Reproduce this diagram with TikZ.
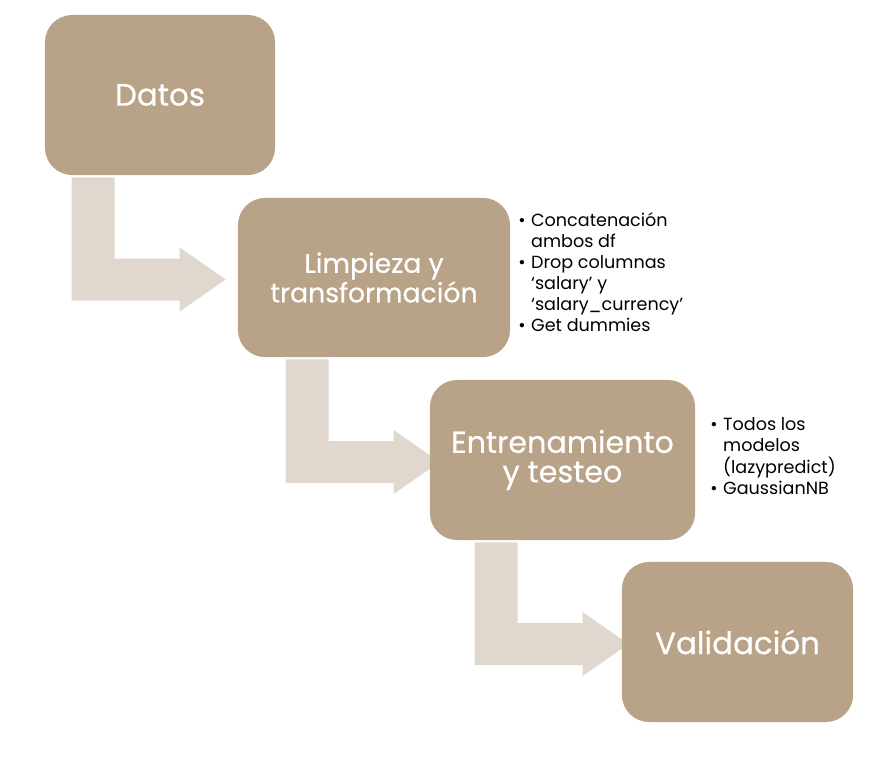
\documentclass[tikz,border=0pt]{standalone}
\usepackage{fontspec}
\setmainfont{Poppins}
\newfontfamily\cajafont[FakeBold=0.5]{Poppins}
\usetikzlibrary{calc,backgrounds}

\definecolor{cajafill}{RGB}{185,163,136}
\definecolor{flechafill}{RGB}{224,215,206}

% flecha en L: #1 caja de origen, #2 caja destino, #3 margen de la barra, #4 hueco antes de la caja
\newcommand{\flecha}[4]{%
  \path ($(#1.south west)+(#3,2)$) coordinate (p) ($(#2.west)+(-#4,2)$) coordinate (q);
  \fill[flechafill] (p) -- ++(43,0) |- ($(q)+(-46,-21)$) -- ++(0,-11) -- (q)
    -- ++(-46,32) -- ++(0,-11) -| (p) -- cycle;
}

\begin{document}
\begin{tikzpicture}[x=0.025cm, y=-0.025cm,
    caja/.style={fill=cajafill, rounded corners=0.68cm, minimum height=4cm,
      text=white, align=center, font=\cajafont\fontsize{22}{21}\selectfont},
    notas/.style={anchor=north west, inner sep=0pt, font=\fontsize{12.5}{15}\selectfont}]
  \useasboundingbox (0,0) rectangle (891,774);

  \node[caja, minimum width=5.75cm] (datos) at (160,95) {Datos};
  \node[caja, minimum width=6.8cm, minimum height=3.98cm, font=\cajafont\fontsize{19}{21}\selectfont] (limpieza) at (374,277.5) {Limpieza y\\transformación};
  \node[caja, minimum width=6.63cm, font=\cajafont\fontsize{21.5}{21}\selectfont] (entrenamiento) at (562.5,460) {Entrenamiento\\y testeo};
  \node[caja, minimum width=5.78cm] (validacion) at (737.5,642) {Validación};

  % las flechas van debajo de las cajas
  \begin{pgfonlayer}{background}
    \flecha{datos}{limpieza}{27}{12}
    \flecha{limpieza}{entrenamiento}{48}{-10}
    \flecha{entrenamiento}{validacion}{45}{-7}
  \end{pgfonlayer}

  \node[notas] (notasLimpieza) at (518,211) {%
    \begin{tabular}{@{}l@{\hspace{4pt}}l@{}}
      \textbullet & Concatenación\\
                  & ambos df\\
      \textbullet & Drop columnas\\
                  & ‘salary’ y\\
                  & ‘salary\_currency’\\
      \textbullet & Get dummies
    \end{tabular}};
  \node[notas] (notasEntrenamiento) at (710,415) {%
    \begin{tabular}{@{}l@{\hspace{4pt}}l@{}}
      \textbullet & Todos los\\
                  & modelos\\
                  & (lazypredict)\\
      \textbullet & GaussianNB
    \end{tabular}};
\end{tikzpicture}
\end{document}
